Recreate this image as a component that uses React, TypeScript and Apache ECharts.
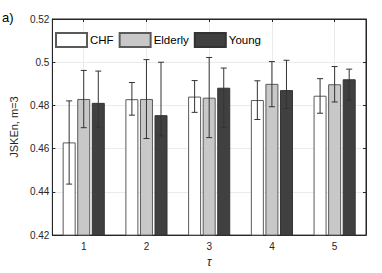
import React, { useEffect, useRef } from "react";
import * as echarts from "echarts";

const categories = ["1", "2", "3", "4", "5"];
const seriesNames = ["CHF", "Elderly", "Young"];
const chfValues = [0.4629, 0.4829, 0.4841, 0.4825, 0.4845];
const elderlyValues = [0.483, 0.483, 0.4836, 0.49, 0.4898];
const youngValues = [0.4812, 0.4755, 0.4882, 0.4871, 0.4921];
const chfLow = [0.4436, 0.4755, 0.4768, 0.4735, 0.4764];
const chfHigh = [0.4821, 0.4906, 0.4915, 0.4914, 0.4924];
const elderlyLow = [0.4697, 0.4647, 0.4651, 0.4794, 0.4816];
const elderlyHigh = [0.4962, 0.5012, 0.5022, 0.5003, 0.498];
const youngLow = [0.47, 0.4659, 0.4697, 0.4786, 0.4825];
const youngHigh = [0.4959, 0.5, 0.4973, 0.5009, 0.4968];
const yTicks = { min: 0.42, max: 0.52, interval: 0.02 };

const fillColors = ["#ffffff", "#c8c8c8", "#404040"];
const FONT = "Liberation Sans, Arial, Helvetica, sans-serif";

export default function App() {
  const ref = useRef<HTMLDivElement>(null);
  useEffect(() => {
    document.body.style.margin = "0";
    const chart = echarts.init(ref.current!, null, { renderer: "svg" });
    const values = [chfValues, elderlyValues, youngValues];
    const lows = [chfLow, elderlyLow, youngLow];
    const highs = [chfHigh, elderlyHigh, youngHigh];
    const errData: number[][] = [];
    for (let s = 0; s < 3; s++) {
      for (let c = 0; c < categories.length; c++) {
        errData.push([c, s, lows[s][c], highs[s][c]]);
      }
    }
    const barWidth = 13;
    const gapRatio = 0.12;
    const offset = barWidth * (1 + gapRatio);
    chart.setOption({
      animation: false,
      textStyle: { fontFamily: FONT },
      grid: {
        left: 46,
        right: 16,
        top: 19,
        bottom: 33,
        show: true,
        borderColor: "#262626",
        borderWidth: 1,
      },
      legend: {
        data: seriesNames,
        icon: "rect",
        left: 55,
        top: 32,
        itemWidth: 31,
        itemHeight: 14,
        itemGap: 5,
        padding: 0,
        textStyle: { fontSize: 11.5, color: "#000", fontFamily: FONT, padding: [0, 0, 0, -2] },
      },
      graphic: [
        {
          type: "text",
          left: 2,
          top: 11,
          style: { text: "a)", fontSize: 13, fill: "#000", fontFamily: FONT },
        },
      ],
      xAxis: [
        {
          type: "category",
          data: categories,
          position: "bottom",
          axisLine: { show: true, lineStyle: { color: "#262626" } },
          axisTick: { show: true, inside: true, length: 3, alignWithLabel: true, lineStyle: { color: "#262626" } },
          axisLabel: { fontSize: 10, color: "#262626", margin: 6, fontFamily: FONT },
          splitLine: { show: false },
          name: "τ",
          nameLocation: "middle",
          nameGap: 17,
          nameTextStyle: { fontSize: 12, fontStyle: "italic", color: "#262626", fontFamily: FONT },
        },
        {
          type: "value",
          position: "top",
          min: 0.5,
          max: 5.5,
          splitNumber: 5,
          axisLine: { show: true, lineStyle: { color: "#262626" } },
          axisTick: { show: true, inside: true, length: 3, lineStyle: { color: "#262626" } },
          axisLabel: { show: false },
          splitLine: { show: true, lineStyle: { color: "#ebebeb", width: 1 } },
        },
      ],
      yAxis: [
        {
          type: "value",
          min: yTicks.min,
          max: yTicks.max,
          interval: yTicks.interval,
          position: "left",
          axisLine: { show: true, lineStyle: { color: "#262626" } },
          axisTick: { show: true, inside: true, length: 3, lineStyle: { color: "#262626" } },
          axisLabel: { fontSize: 10, color: "#262626", margin: 3, fontFamily: FONT },
          splitLine: { show: true, lineStyle: { color: "#ebebeb", width: 1 } },
          name: "JSKEn, m=3",
          nameLocation: "middle",
          nameGap: 29,
          nameTextStyle: { fontSize: 11, color: "#262626", fontFamily: FONT },
        },
        {
          type: "value",
          min: yTicks.min,
          max: yTicks.max,
          interval: yTicks.interval,
          position: "right",
          axisLine: { show: true, lineStyle: { color: "#262626" } },
          axisTick: { show: true, inside: true, length: 3, lineStyle: { color: "#262626" } },
          axisLabel: { show: false },
          splitLine: { show: false },
        },
      ],
      series: [
        ...seriesNames.map((name, i) => ({
          type: "bar",
          name,
          data: values[i],
          xAxisIndex: 0,
          yAxisIndex: 0,
          barWidth,
          barGap: `${gapRatio * 100}%`,
          itemStyle: {
            color: fillColors[i],
            borderColor: i === 2 ? "#333" : "#5a5a5a",
            borderWidth: 1,
          },
        })),
        {
          type: "custom",
          name: "errors",
          xAxisIndex: 0,
          yAxisIndex: 0,
          data: errData,
          z: 5,
          renderItem: (params: any, api: any) => {
            const c = api.value(0);
            const s = api.value(1);
            const lo = api.coord([c, api.value(2)]);
            const hi = api.coord([c, api.value(3)]);
            const x = lo[0] + (s - 1) * offset;
            const cap = 3;
            const style = { stroke: "#333", lineWidth: 1 };
            return {
              type: "group",
              children: [
                { type: "line", shape: { x1: x, y1: lo[1], x2: x, y2: hi[1] }, style },
                { type: "line", shape: { x1: x - cap, y1: lo[1], x2: x + cap, y2: lo[1] }, style },
                { type: "line", shape: { x1: x - cap, y1: hi[1], x2: x + cap, y2: hi[1] }, style },
              ],
            };
          },
        },
      ],
    });
    return () => chart.dispose();
  }, []);
  return (
    <div
      ref={ref}
      style={{ position: "absolute", left: 0, top: 0, width: 382, height: 273, background: "#fff" }}
    />
  );
}
